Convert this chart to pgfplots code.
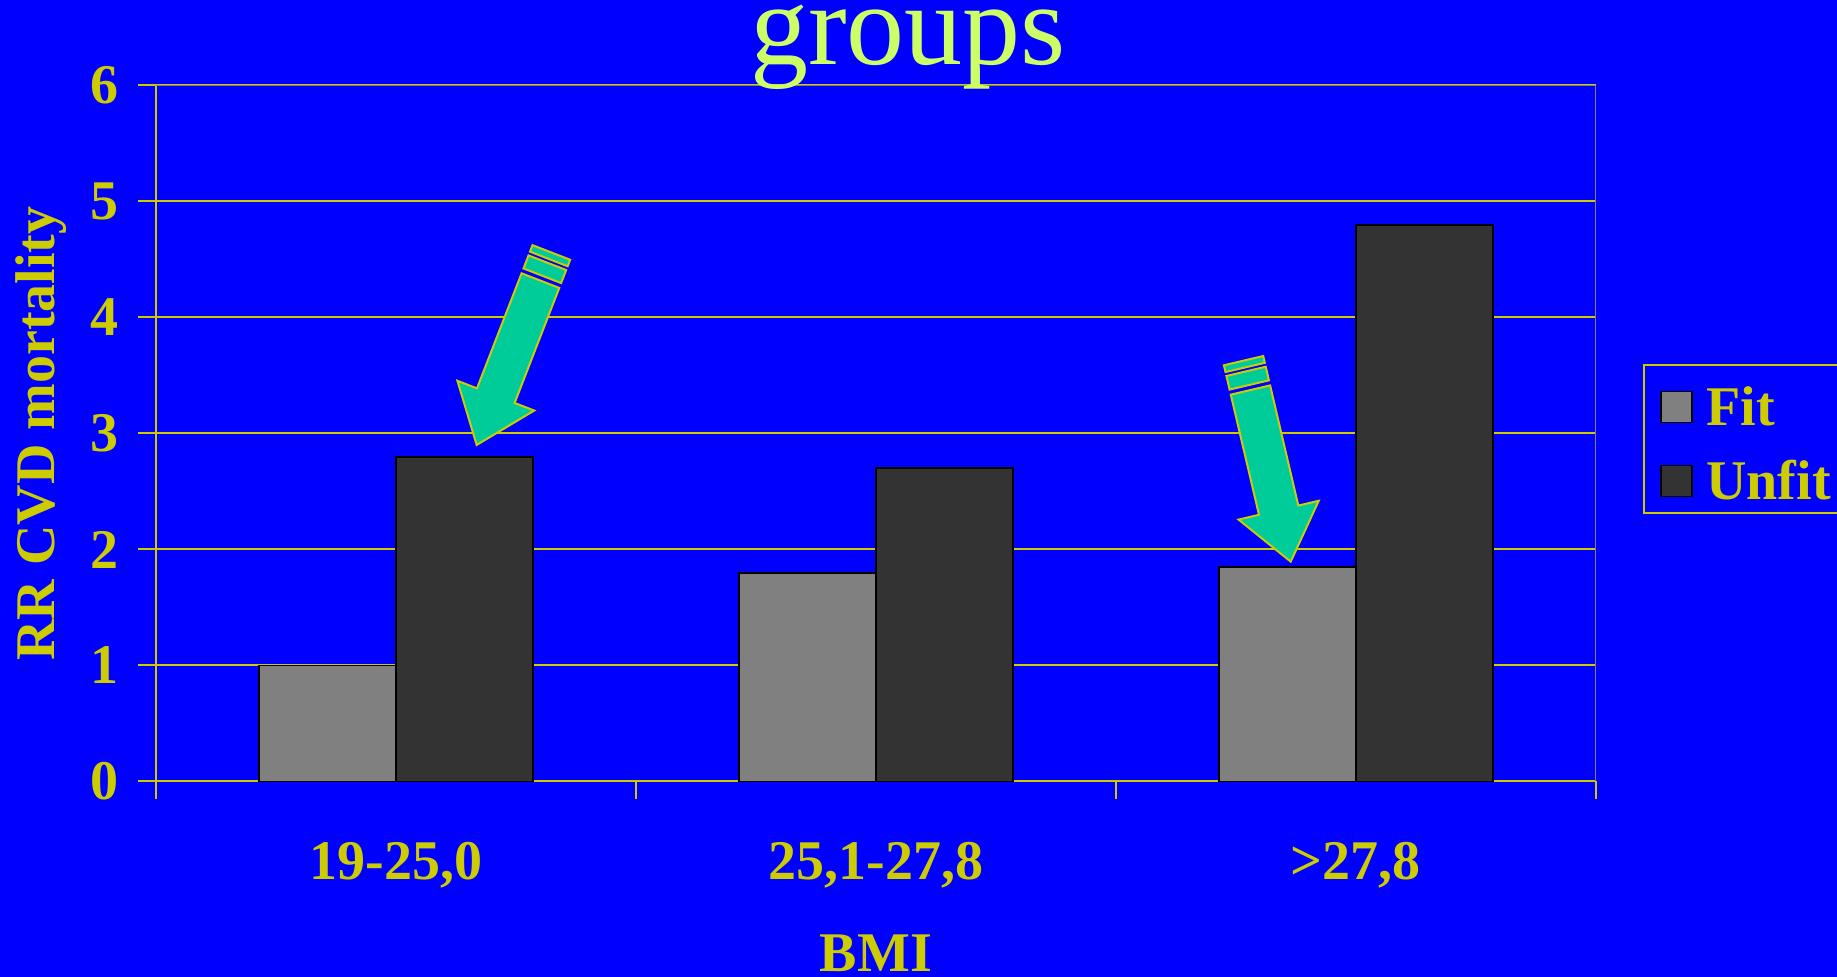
\documentclass[border=0pt]{standalone}
\usepackage{pgfplots}
\pgfplotsset{compat=1.18}
\usepackage{fontspec}
\setmainfont{Liberation Serif}

\definecolor{slideblue}{RGB}{0,0,255}
\definecolor{textyellow}{RGB}{204,204,0}
\definecolor{titlegreen}{RGB}{204,255,102}
\definecolor{fitgray}{RGB}{128,128,128}
\definecolor{unfitgray}{RGB}{51,51,51}
\definecolor{arrowfill}{RGB}{0,204,153}
\definecolor{bordergray}{RGB}{128,128,128}

% striped block arrow: #1 = tip coordinate, #2 = pointing angle
\newcommand{\stripedarrow}[2]{%
  \begin{scope}[shift={(#1)}, rotate=#2, fill=arrowfill, draw=textyellow,
                line width=1pt, line join=miter]
    \filldraw (0,0) -- (-26.45pt,20.6pt) -- (-26.45pt,10.1pt) -- (-88.15pt,10.1pt)
      -- (-88.15pt,-10.1pt) -- (-26.45pt,-10.1pt) -- (-26.45pt,-20.6pt) -- cycle;
    \filldraw (-90.75pt,-10.1pt) rectangle (-97.75pt,10.1pt);
    \filldraw (-99.75pt,-10.1pt) rectangle (-103.25pt,10.1pt);
  \end{scope}}

\pgfplotsset{
  sqlegend/.style={legend image code/.code={%
    \draw[##1, line width=0.85pt, draw=black] (0pt,-10.25pt) rectangle (15.5pt,5.25pt);}},
}

\newcommand{\bigbold}{\fontsize{28}{34}\selectfont\bfseries}

\begin{document}
\begin{tikzpicture}
\fill[slideblue] (-77.9pt,-97.75pt) rectangle (840.6pt,390.75pt);
\begin{axis}[
  at={(0pt,0pt)}, anchor=south west,
  scale only axis, width=720pt, height=348pt,
  xmin=-0.5, xmax=2.5, ymin=0, ymax=6,
  ybar=0pt, bar width=68.5pt,
  axis x line*=bottom, axis y line*=left,
  axis line style={draw=textyellow, line width=1pt},
  xtick={0,1,2},
  xticklabels={{19-25,0},{25,1-27,8},{>27,8}},
  minor xtick={-0.5,0.5,1.5,2.5},
  ytick={0,1,2,3,4,5,6},
  tick align=outside,
  major tick length=8.8pt, minor tick length=8.8pt,
  tick style={draw=textyellow, line width=1pt},
  major x tick style={draw=none},
  ymajorgrids,
  major grid style={draw=textyellow, line width=1pt},
  /pgf/number format/assume math mode=true,
  tick label style={font=\bigbold, text=textyellow, inner sep=0pt},
  xticklabel style={anchor=base, yshift=-40.35pt},
  yticklabel style={anchor=east, xshift=-9.5pt},
  xlabel={BMI},
  ylabel={RR CVD mortality},
  every axis x label/.style={at={(axis description cs:0.5,0)}, anchor=base,
    yshift=-95pt, font=\bigbold, text=textyellow, inner sep=0pt, text depth=0pt},
  every axis y label/.style={at={(axis description cs:-0.07,0.5)}, rotate=90,
    anchor=base, font=\bigbold, text=textyellow},
  title={groups},
  title style={at={(axis description cs:0.5224,1)}, anchor=base, yshift=4.25pt,
    font=\fontsize{58}{60}\selectfont, text=titlegreen, inner sep=0pt,
    text height=28pt},
  legend style={at={(axis description cs:1.033,0.6)}, anchor=north west,
    fill=slideblue, draw=textyellow, line width=1pt, font=\bigbold,
    text=textyellow, inner xsep=7.85pt, inner ysep=5.5pt,
    row sep=11pt, column sep=6.75pt,
    nodes={inner sep=0pt, text height=25pt, text depth=1pt}},
  legend cell align=left,
]
\addplot[fill=fitgray, draw=black, line width=0.85pt, sqlegend]
  coordinates {(0,1.0) (1,1.8) (2,1.85)};
\addlegendentry{Fit}
\addplot[fill=unfitgray, draw=black, line width=0.85pt, sqlegend]
  coordinates {(0,2.8) (1,2.7) (2,4.8)};
\addlegendentry{Unfit}
\draw[bordergray, line width=1pt] (rel axis cs:0,1) -- (rel axis cs:1,1) -- (rel axis cs:1,0);
\coordinate (tipA) at (axis cs:0.1685,2.901);
\coordinate (tipB) at (axis cs:1.8644,1.895);
\end{axis}
\stripedarrow{tipA}{-111.2}
\stripedarrow{tipB}{-76.8}
\pgfresetboundingbox
\useasboundingbox (-77.9pt,-97.75pt) rectangle (840.6pt,390.75pt);
\end{tikzpicture}
\end{document}
